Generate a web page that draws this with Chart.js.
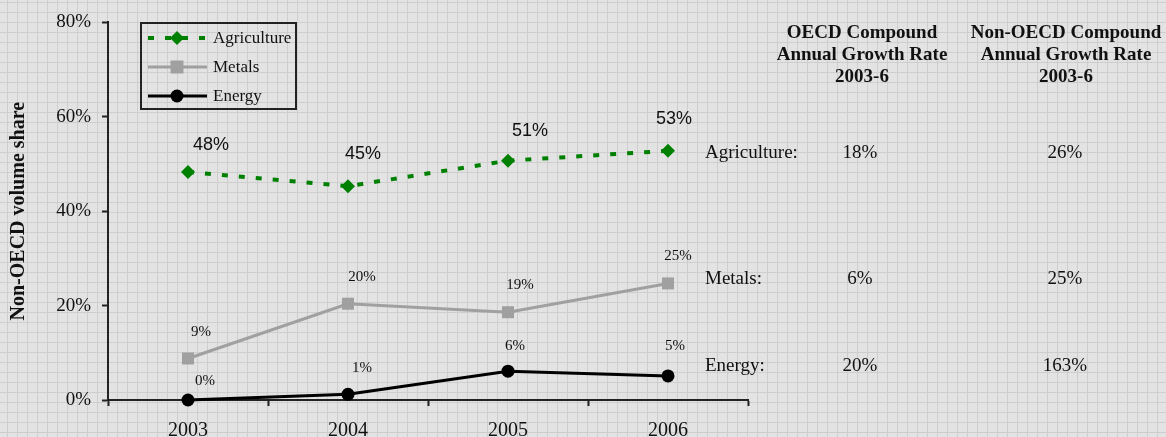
<!DOCTYPE html>
<html>
<head>
<meta charset="utf-8">
<script src="https://cdn.jsdelivr.net/npm/chart.js@4"></script>
<style>
  html, body { margin: 0; padding: 0; }
  body {
    width: 1166px; height: 437px; overflow: hidden; position: relative;
    background-color: #e3e3e3;
    background-image:
      linear-gradient(to right, #cecece 1px, transparent 1px),
      linear-gradient(to bottom, #cecece 1px, transparent 1px);
    background-size: 10px 10px;
    background-position: 7px 2px;
    font-family: "Liberation Serif", "Times New Roman", serif;
    color: #111;
  }
  #wrap { position: absolute; left: 0; top: 0; width: 1166px; height: 437px; }
  .head { position: absolute; width: 220px; text-align: center; font-weight: bold;
          font-size: 19px; line-height: 22px; white-space: nowrap; }
  .cell { position: absolute; font-size: 19px; line-height: 22px; white-space: nowrap; }
  .num { width: 80px; text-align: center; }
</style>
</head>
<body>
<div id="wrap"><canvas id="chart" width="1166" height="437"></canvas></div>
<div id="table"></div>
<script>
// ---- data ----
const years = ["2003", "2004", "2005", "2006"];
const agriculture = [48.3, 45.3, 50.7, 52.8];
const metals = [8.8, 20.4, 18.6, 24.7];
const energy = [0, 1.2, 6.1, 5.1];
const yTicks = [0, 20, 40, 60, 80];

// growth rate table
const commodities = ["Agriculture", "Metals", "Energy"];
const oecdCagr = [18, 6, 20];
const nonOecdCagr = [26, 25, 163];
const headers = ["OECD Compound<br>Annual Growth Rate<br>2003-6",
                 "Non-OECD Compound<br>Annual Growth Rate<br>2003-6"];

// label nudges (px) for each point label
const agriLabelOffset = [[23, -27], [15, -32], [22, -30], [6, -32]];
const metalLabelOffset = [[13, -26], [14, -27], [12, -27], [10, -27]];
const energyLabelOffset = [[17, -19], [14, -26], [7, -25], [7, -30]];

const SERIF = '"Liberation Serif", "Times New Roman", serif';
const SANS = '"Liberation Sans", Arial, sans-serif';

// ---- markers ----
function drawMarker(ctx, style, x, y, r, color) {
  ctx.save();
  ctx.fillStyle = color;
  ctx.setLineDash([]);
  ctx.beginPath();
  if (style === "rectRot") {
    ctx.moveTo(x, y - r); ctx.lineTo(x + r, y); ctx.lineTo(x, y + r); ctx.lineTo(x - r, y);
    ctx.closePath();
  } else if (style === "rect") {
    ctx.rect(x - r, y - r, 2 * r, 2 * r);
  } else {
    ctx.arc(x, y, r, 0, Math.PI * 2);
  }
  ctx.fill();
  ctx.restore();
}

// ---- point labels ----
const pointLabels = {
  id: "pointLabels",
  afterDatasetsDraw(chart) {
    const ctx = chart.ctx;
    const cfg = [
      { offs: agriLabelOffset, font: "18px " + SANS },
      { offs: metalLabelOffset, font: "15px " + SERIF },
      { offs: energyLabelOffset, font: "15px " + SERIF }
    ];
    ctx.save();
    ctx.fillStyle = "#111";
    ctx.textAlign = "center";
    ctx.textBaseline = "middle";
    chart.data.datasets.forEach((ds, i) => {
      const meta = chart.getDatasetMeta(i);
      ctx.font = cfg[i].font;
      meta.data.forEach((pt, j) => {
        const [dx, dy] = cfg[i].offs[j];
        ctx.fillText(Math.round(ds.data[j]) + "%", pt.x + dx, pt.y + dy);
      });
    });
    ctx.restore();
  }
};

// ---- legend box ----
const boxLegend = {
  id: "boxLegend",
  afterDraw(chart) {
    const ctx = chart.ctx;
    const x0 = 141, y0 = 23, w = 155, h = 86;
    ctx.save();
    ctx.strokeStyle = "#222";
    ctx.lineWidth = 2;
    ctx.strokeRect(x0, y0, w, h);
    ctx.font = "17px " + SERIF;
    ctx.textBaseline = "middle";
    ctx.fillStyle = "#111";
    const rowY = [38, 67, 96];
    chart.data.datasets.forEach((ds, i) => {
      const y = rowY[i];
      ctx.save();
      ctx.strokeStyle = ds.borderColor;
      ctx.lineWidth = ds.borderWidth;
      ctx.setLineDash(ds.borderDash || []);
      ctx.beginPath();
      ctx.moveTo(148, y);
      ctx.lineTo(207, y);
      ctx.stroke();
      ctx.restore();
      drawMarker(ctx, ds.pointStyle, 177, y, ds.legendRadius, ds.pointBackgroundColor);
      ctx.fillText(ds.label, 213, y + 1);
    });
    ctx.restore();
  }
};

// ---- chart ----
const ctx = document.getElementById("chart").getContext("2d");
const chart = new Chart(ctx, {
  type: "line",
  data: {
    labels: years,
    datasets: [
      {
        label: "Agriculture", data: agriculture, clip: false,
        borderColor: "#008000", borderWidth: 4, borderDash: [6, 11],
        pointStyle: "rectRot", pointRadius: 7, legendRadius: 7,
        pointBackgroundColor: "#008000", pointBorderColor: "#008000", pointBorderWidth: 0
      },
      {
        label: "Metals", data: metals, clip: false,
        borderColor: "#a0a0a0", borderWidth: 3,
        pointStyle: "rect", pointRadius: 8.5, legendRadius: 6.5,
        pointBackgroundColor: "#a0a0a0", pointBorderColor: "#a0a0a0", pointBorderWidth: 0
      },
      {
        label: "Energy", data: energy, clip: false,
        borderColor: "#000000", borderWidth: 3,
        pointStyle: "circle", pointRadius: 6.5, legendRadius: 6.5,
        pointBackgroundColor: "#000000", pointBorderColor: "#000000", pointBorderWidth: 0
      }
    ]
  },
  options: {
    responsive: false,
    animation: false,
    layout: { padding: { top: 20, right: 418, left: 0, bottom: 0 } },
    plugins: { legend: { display: false }, tooltip: { enabled: false } },
    elements: { line: { tension: 0 } },
    scales: {
      x: {
        offset: true,
        afterFit(scale) { scale.height = 37; },
        grid: { offset: true, drawOnChartArea: false, drawTicks: true, tickLength: 6,
                tickColor: "#222", tickWidth: 2 },
        border: { color: "#222", width: 2 },
        ticks: { color: "#111", padding: 13, font: { family: SERIF, size: 20 } }
      },
      y: {
        min: 0, max: 80,
        afterFit(scale) { scale.width = 108; },
        afterBuildTicks(scale) { scale.ticks = yTicks.map(v => ({ value: v })); },
        grid: { drawOnChartArea: false, drawTicks: true, tickLength: 6,
                tickColor: "#222", tickWidth: 2 },
        border: { color: "#222", width: 2 },
        ticks: { color: "#111", padding: 11, font: { family: SERIF, size: 19 },
                 callback: v => v + "%" },
        title: { display: true, text: "Non-OECD volume share", color: "#111",
                 padding: { top: 7, bottom: 0 },
                 font: { family: SERIF, size: 20, weight: "bold" } }
      }
    }
  },
  plugins: [pointLabels, boxLegend]
});

// ---- growth rate table ----
const table = document.getElementById("table");
const headCenters = [862, 1066];
headers.forEach((h, i) => {
  const d = document.createElement("div");
  d.className = "head";
  d.style.left = (headCenters[i] - 110) + "px";
  d.style.top = "21px";
  d.innerHTML = h;
  table.appendChild(d);
});
const rowCenters = [152, 278, 365];
commodities.forEach((c, i) => {
  const top = (rowCenters[i] - 11) + "px";
  const name = document.createElement("div");
  name.className = "cell";
  name.style.left = "705px";
  name.style.top = top;
  name.textContent = c + ":";
  table.appendChild(name);
  [[oecdCagr[i], 860], [nonOecdCagr[i], 1065]].forEach(([v, cx]) => {
    const d = document.createElement("div");
    d.className = "cell num";
    d.style.left = (cx - 40) + "px";
    d.style.top = top;
    d.textContent = v + "%";
    table.appendChild(d);
  });
});
</script>
</body>
</html>
